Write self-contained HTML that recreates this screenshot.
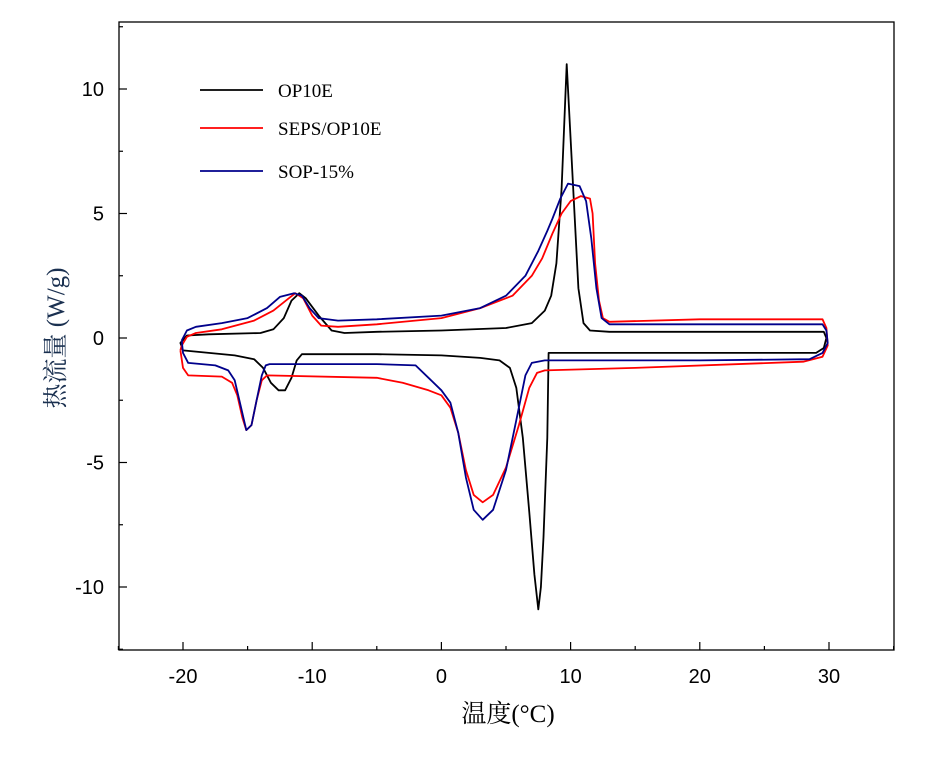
<!DOCTYPE html>
<html><head><meta charset="utf-8"><style>
body{margin:0;background:#fff}
svg{display:block}
.tk{font-family:"Liberation Sans",sans-serif;font-size:20px}
.lg{font-family:"Liberation Serif",serif;font-size:19px}
</style></head><body>
<svg id="c" width="932" height="765" xmlns="http://www.w3.org/2000/svg"></svg>
<script>
const xTicks=[-20,-10,0,10,20,30];
const yTicks=[-10,-5,0,5,10];
const seriesNames=["OP10E","SEPS/OP10E","SOP-15%"];
const seriesColors=["#000000","#ff0000","#00008b"];
const op10e=[[-20,-0.5],[-18,-0.6],[-16,-0.7],[-14.5,-0.85],[-13.8,-1.2],[-13.2,-1.8],[-12.6,-2.1],[-12.1,-2.1],[-11.6,-1.6],[-11.2,-0.9],[-10.8,-0.65],[-5,-0.65],[0,-0.7],[3,-0.8],[4.5,-0.9],[5.3,-1.2],[5.8,-2],[6.3,-4],[6.8,-7],[7.2,-9.5],[7.5,-10.9],[7.7,-10],[7.9,-8],[8.2,-4],[8.3,-0.6],[15,-0.6],[29,-0.6],[29.6,-0.4],[29.8,0],[29.6,0.25],[25,0.25],[13,0.25],[11.5,0.3],[11,0.6],[10.6,2],[10.2,6],[9.7,11],[9.3,6],[8.9,3],[8.5,1.7],[8,1.1],[7,0.6],[5,0.4],[0,0.3],[-5,0.25],[-7.5,0.2],[-8.5,0.3],[-9.5,0.9],[-10.5,1.6],[-11,1.8],[-11.6,1.5],[-12.2,0.8],[-13,0.35],[-14,0.2],[-18,0.15],[-19.7,0.1],[-20.2,-0.2],[-20,-0.5]];
const sepsOp10e=[[-20.2,-0.5],[-20,-1.2],[-19.6,-1.5],[-17,-1.55],[-16.2,-1.8],[-15.8,-2.3],[-15.4,-3.2],[-15.1,-3.7],[-14.7,-3.5],[-14.3,-2.5],[-13.9,-1.7],[-13.5,-1.5],[-5,-1.6],[-3,-1.8],[-1,-2.1],[0,-2.3],[0.7,-2.8],[1.3,-3.8],[1.9,-5.3],[2.5,-6.3],[3.2,-6.6],[4,-6.3],[5,-5.2],[6,-3.5],[6.8,-2],[7.4,-1.4],[8,-1.3],[15,-1.2],[28,-0.95],[29.5,-0.75],[29.9,-0.3],[29.8,0.4],[29.5,0.75],[20,0.75],[13,0.65],[12.5,0.8],[12.2,1.5],[11.9,3],[11.7,5],[11.5,5.6],[10.8,5.7],[10,5.5],[9.3,5],[8.6,4.2],[7.8,3.2],[7,2.5],[5.5,1.7],[3,1.2],[0,0.8],[-5,0.55],[-8,0.45],[-9.3,0.5],[-10,0.9],[-10.7,1.6],[-11.3,1.8],[-11.8,1.6],[-13,1.1],[-14.5,0.7],[-17,0.35],[-19,0.2],[-19.7,0.05],[-20.1,-0.3],[-20.2,-0.5]];
const sop15=[[-20.1,-0.1],[-20,-0.6],[-19.6,-1],[-17.5,-1.1],[-16.5,-1.3],[-16,-1.7],[-15.5,-2.8],[-15.1,-3.7],[-14.7,-3.5],[-14.3,-2.5],[-13.9,-1.5],[-13.6,-1.1],[-13.3,-1.05],[-5,-1.05],[-2,-1.1],[-1,-1.6],[0,-2.1],[0.7,-2.6],[1.3,-3.8],[1.9,-5.6],[2.5,-6.9],[3.2,-7.3],[4,-6.9],[5,-5.3],[5.8,-3.3],[6.5,-1.5],[7,-1],[8,-0.9],[20,-0.9],[28.5,-0.85],[29.5,-0.6],[29.9,-0.2],[29.8,0.3],[29.5,0.55],[13,0.55],[12.4,0.8],[12,2],[11.6,4],[11.2,5.5],[10.7,6.1],[9.8,6.2],[9.2,5.6],[8.6,4.8],[8.2,4.3],[7.5,3.5],[6.5,2.5],[5,1.7],[3,1.2],[0,0.9],[-5,0.75],[-8,0.7],[-9.5,0.8],[-10.2,1.2],[-10.8,1.7],[-11.4,1.8],[-12.5,1.65],[-13.5,1.2],[-15,0.8],[-17,0.6],[-19,0.45],[-19.7,0.3],[-20.1,-0.1]];

const NS="http://www.w3.org/2000/svg",svg=document.getElementById('c');
const L=119,R=894,T=22,B=650;
const xs=v=>441.4+v*12.92;
const ys=v=>338-v*24.9;
function mk(t,a,p){const e=document.createElementNS(NS,t);for(const k in a)e.setAttribute(k,a[k]);(p||svg).appendChild(e);return e;}
const frame=mk('rect',{x:L,y:T,width:R-L,height:B-T,fill:'none',stroke:'#000','stroke-width':1.3});


for(let v=-25;v<=35;v+=5){const x=xs(v);const major=xTicks.includes(v);
 const t=mk('line',{x1:x,x2:x,y1:B,y2:B-(major?8:4),stroke:'#000','stroke-width':1.2});
 
 }
xTicks.forEach(v=>{const t=mk('text',{x:xs(v),y:683,'text-anchor':'middle',class:'tk'});t.textContent=v;
 
 });
for(let v=-12.5;v<=12.5;v+=2.5){const y=ys(v);const major=yTicks.includes(v);
 const t=mk('line',{x1:L,x2:L+(major?8:4),y1:y,y2:y,stroke:'#000','stroke-width':1.2});
 
 }
yTicks.forEach(v=>{const t=mk('text',{x:104,y:ys(v)+7,'text-anchor':'end',class:'tk'});t.textContent=v;
 
 });
const xt=mk('text',{x:508,y:722,'text-anchor':'middle','font-size':25,'font-family':'"Liberation Serif","Noto Serif CJK SC",serif'});
xt.textContent='温度(°C)';


const yt=mk('text',{x:0,y:0,'text-anchor':'middle','font-size':25,transform:'translate(64,338) rotate(-90)','font-family':'"Liberation Serif","Noto Serif CJK SC",serif',fill:'#1a3050'});
yt.textContent='热流量 (W/g)';


[op10e,sepsOp10e,sop15].forEach((d,i)=>{
 const p=mk('polyline',{points:d.map(q=>xs(q[0]).toFixed(1)+','+ys(q[1]).toFixed(1)).join(' '),fill:'none',stroke:seriesColors[i],'stroke-width':1.8,'stroke-linejoin':'round'});
 
 
 const ly=[90,128,171][i];
 const ll=mk('line',{x1:200,x2:263,y1:ly,y2:ly,stroke:seriesColors[i],'stroke-width':1.8});
 
 
 const lt=mk('text',{x:278,y:ly+7,class:'lg'});lt.textContent=seriesNames[i];
 
 
});
</script>
</body></html>
